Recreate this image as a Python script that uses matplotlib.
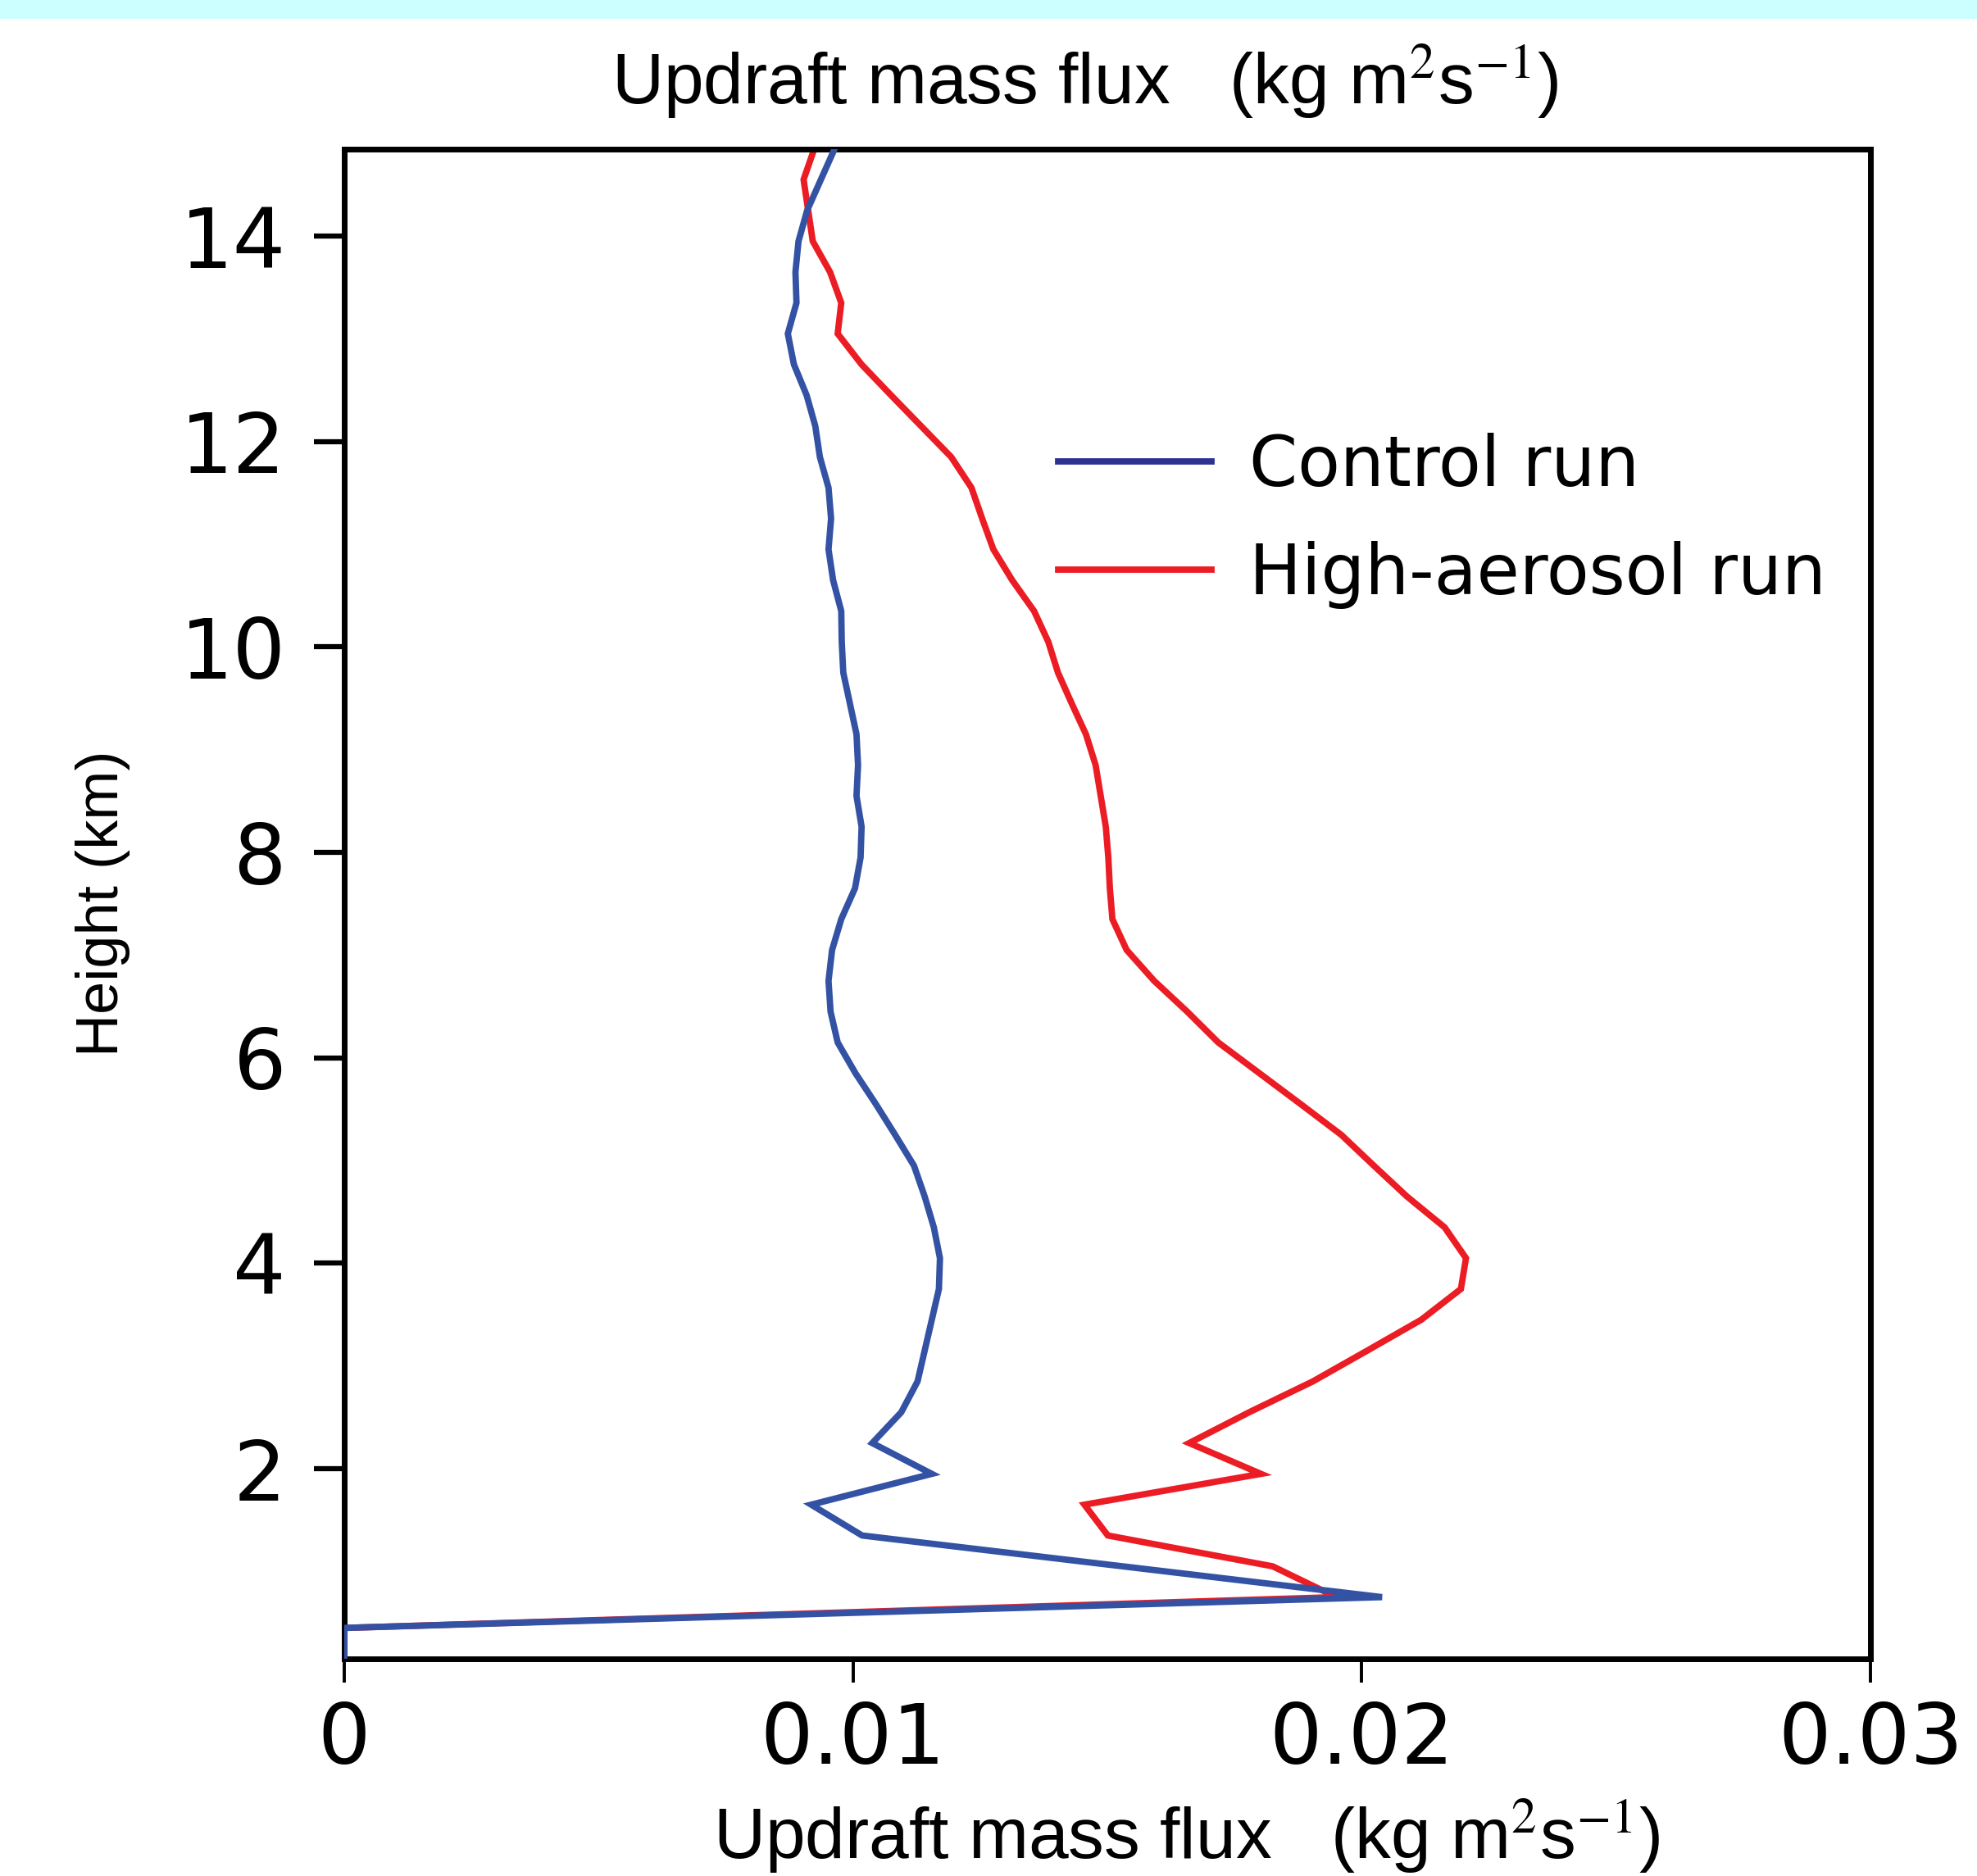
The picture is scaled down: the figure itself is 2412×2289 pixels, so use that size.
import matplotlib
matplotlib.use("Agg")
import matplotlib.pyplot as plt
from matplotlib.lines import Line2D
from matplotlib.patches import Rectangle

# ---------------- data ----------------
heights_km = [0.15, 0.45, 0.75, 1.05, 1.35, 1.65, 1.95, 2.25, 2.55, 2.85,
              3.15, 3.45, 3.75, 4.05, 4.35, 4.65, 4.95, 5.25, 5.55, 5.85,
              6.15, 6.45, 6.75, 7.05, 7.35, 7.65, 7.95, 8.25, 8.55, 8.85,
              9.15, 9.45, 9.75, 10.05, 10.35, 10.65, 10.95, 11.25, 11.55, 11.85,
              12.15, 12.45, 12.75, 13.05, 13.35, 13.65, 13.95, 14.25, 14.55, 14.85]

control_run = [0.0, 0.0, 0.0204, 0.0153, 0.01018, 0.00918, 0.01155, 0.01038, 0.01095, 0.01127,
               0.01141, 0.01155, 0.01169, 0.01171, 0.01159, 0.01141, 0.01120, 0.01083, 0.01045, 0.01005,
               0.00970, 0.00956, 0.00952, 0.00959, 0.00977, 0.01004, 0.01015, 0.01017, 0.01007, 0.01010,
               0.01007, 0.00994, 0.00981, 0.00978, 0.00977, 0.00961, 0.00952, 0.00957, 0.00952, 0.00935,
               0.00926, 0.00909, 0.00884, 0.00872, 0.00889, 0.00887, 0.00893, 0.00910, 0.00937, 0.00964]

high_aerosol_run = [0.0, 0.0, 0.0195, 0.01825, 0.01501, 0.01455, 0.01802, 0.01661, 0.01779, 0.01904,
                    0.02011, 0.02117, 0.02195, 0.02205, 0.02163, 0.02089, 0.02024, 0.01960, 0.01880, 0.01799,
                    0.01718, 0.01657, 0.01592, 0.01538, 0.01510, 0.01505, 0.01502, 0.01497, 0.01487, 0.01477,
                    0.01458, 0.01430, 0.01403, 0.01384, 0.01356, 0.01313, 0.01276, 0.01254, 0.01233, 0.01193,
                    0.01134, 0.01075, 0.01017, 0.00970, 0.00977, 0.00955, 0.00921, 0.00912, 0.00903, 0.00924]

series_labels = ["Control run", "High-aerosol run"]
x_ticks = [0, 0.01, 0.02, 0.03]
x_tick_labels = ["0", "0.01", "0.02", "0.03"]
y_ticks = [2, 4, 6, 8, 10, 12, 14]
y_tick_labels = ["2", "4", "6", "8", "10", "12", "14"]

title_text = r"Updraft mass flux   (kg m$^{2}$s$^{-1}$)"
xlabel_text = r"Updraft mass flux   (kg m$^{2}$s$^{-1}$)"
ylabel_text = "Height (km)"

# ---------------- style ----------------
plt.rcParams['mathtext.fontset'] = 'stix'
narrow = ['Liberation Sans', 'DejaVu Sans']
wide = ['DejaVu Sans']

BLUE = '#3452a4'
BLUE_LEG = '#2b3290'
RED = '#ec1c24'

fig = plt.figure(figsize=(24.12, 22.89), dpi=100)
fig.patch.set_facecolor('white')

# cyan banner strip at the very top
fig.patches.append(Rectangle((0, 1 - 23 / 2289), 1, 23 / 2289, transform=fig.transFigure,
                             facecolor='#ccffff', edgecolor='none', zorder=0))

ax = fig.add_axes([0.1741, 0.1158, 0.7720, 0.8049])

ax.plot(high_aerosol_run, heights_km, color=RED, lw=5.6, solid_joinstyle='miter', zorder=2)
ax.plot(control_run, heights_km, color=BLUE, lw=5.6, solid_joinstyle='miter', zorder=3)

ax.set_xlim(0, 0.03)
ax.set_ylim(0.15, 14.85)

ax.set_xticks(x_ticks)
ax.set_xticklabels(x_tick_labels, family=wide, fontsize=73)
ax.set_yticks(y_ticks)
ax.set_yticklabels(y_tick_labels, family=wide, fontsize=73)

ax.tick_params(axis='x', direction='out', length=21, width=2.8, pad=16, colors='black')
ax.tick_params(axis='y', direction='out', length=27, width=4.5, pad=24, colors='black')

for s in ax.spines.values():
    s.set_linewidth(5.0)
    s.set_color('black')

# title
ax.set_title(title_text, family=narrow, fontsize=63, x=0.4855, y=1.025, va='baseline')

# x label
ax.set_xlabel(xlabel_text, family=narrow, fontsize=63)
ax.xaxis.label.set_verticalalignment('baseline')
ax.xaxis.set_label_coords(0.552, -0.1325)

# y label
ax.set_ylabel(ylabel_text, family=narrow, fontsize=52)
ax.yaxis.set_label_coords(-0.140, 0.50)

# legend
handles = [Line2D([], [], color=BLUE_LEG, lw=5.6), Line2D([], [], color=RED, lw=5.6)]
ax.legend(handles, series_labels, loc='upper left', bbox_to_anchor=(0.468, 0.812),
          frameon=False, prop={'family': wide, 'size': 61}, handlelength=2.2,
          handletextpad=0.55, labelspacing=0.58, borderpad=0, borderaxespad=0)

fig.savefig('out.png', dpi=100, facecolor='white')
